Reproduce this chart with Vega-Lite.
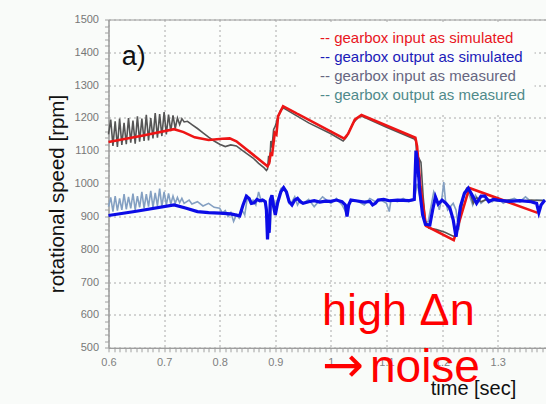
{
  "$schema": "https://vega.github.io/schema/vega-lite/v6.json",
  "width": 440,
  "height": 328.3,
  "autosize": {"type": "none"},
  "padding": {"left": 108.5, "top": 19.5, "right": 0, "bottom": 56.2},
  "background": "#f9fbf9",
  "config": {
    "view": {"stroke": "#9a9a9a", "strokeWidth": 1, "fill": "#fbfdfb"},
    "font": "Liberation Sans"
  },
  "layer": [
    {
      "data": {
        "values": [
          {"s": "in_sim", "t": 0.600, "v": 1127}, {"s": "in_sim", "t": 0.660, "v": 1146}, {"s": "in_sim", "t": 0.718, "v": 1166},
          {"s": "in_sim", "t": 0.735, "v": 1157}, {"s": "in_sim", "t": 0.755, "v": 1141}, {"s": "in_sim", "t": 0.780, "v": 1133},
          {"s": "in_sim", "t": 0.805, "v": 1137}, {"s": "in_sim", "t": 0.818, "v": 1138}, {"s": "in_sim", "t": 0.830, "v": 1129},
          {"s": "in_sim", "t": 0.886, "v": 1053}, {"s": "in_sim", "t": 0.889, "v": 1062}, {"s": "in_sim", "t": 0.892, "v": 1095},
          {"s": "in_sim", "t": 0.894, "v": 1084}, {"s": "in_sim", "t": 0.899, "v": 1155}, {"s": "in_sim", "t": 0.902, "v": 1150},
          {"s": "in_sim", "t": 0.905, "v": 1205}, {"s": "in_sim", "t": 0.914, "v": 1236}, {"s": "in_sim", "t": 1.024, "v": 1137},
          {"s": "in_sim", "t": 1.031, "v": 1152}, {"s": "in_sim", "t": 1.043, "v": 1195}, {"s": "in_sim", "t": 1.055, "v": 1209},
          {"s": "in_sim", "t": 1.152, "v": 1140}, {"s": "in_sim", "t": 1.155, "v": 1114}, {"s": "in_sim", "t": 1.161, "v": 992},
          {"s": "in_sim", "t": 1.171, "v": 871}, {"s": "in_sim", "t": 1.221, "v": 828}, {"s": "in_sim", "t": 1.249, "v": 987},
          {"s": "in_sim", "t": 1.372, "v": 911},

          {"s": "out_sim", "t": 0.600, "v": 903}, {"s": "out_sim", "t": 0.650, "v": 916}, {"s": "out_sim", "t": 0.718, "v": 935},
          {"s": "out_sim", "t": 0.740, "v": 925}, {"s": "out_sim", "t": 0.760, "v": 915}, {"s": "out_sim", "t": 0.780, "v": 912},
          {"s": "out_sim", "t": 0.800, "v": 910}, {"s": "out_sim", "t": 0.820, "v": 908}, {"s": "out_sim", "t": 0.836, "v": 902},
          {"s": "out_sim", "t": 0.842, "v": 935}, {"s": "out_sim", "t": 0.848, "v": 962}, {"s": "out_sim", "t": 0.853, "v": 955},
          {"s": "out_sim", "t": 0.857, "v": 940}, {"s": "out_sim", "t": 0.862, "v": 942}, {"s": "out_sim", "t": 0.867, "v": 952},
          {"s": "out_sim", "t": 0.872, "v": 948}, {"s": "out_sim", "t": 0.877, "v": 950}, {"s": "out_sim", "t": 0.882, "v": 945},
          {"s": "out_sim", "t": 0.884, "v": 920}, {"s": "out_sim", "t": 0.886, "v": 830}, {"s": "out_sim", "t": 0.888, "v": 900},
          {"s": "out_sim", "t": 0.889, "v": 850}, {"s": "out_sim", "t": 0.891, "v": 950}, {"s": "out_sim", "t": 0.894, "v": 965},
          {"s": "out_sim", "t": 0.897, "v": 930}, {"s": "out_sim", "t": 0.900, "v": 905}, {"s": "out_sim", "t": 0.904, "v": 940},
          {"s": "out_sim", "t": 0.910, "v": 975}, {"s": "out_sim", "t": 0.915, "v": 988}, {"s": "out_sim", "t": 0.920, "v": 975},
          {"s": "out_sim", "t": 0.925, "v": 945}, {"s": "out_sim", "t": 0.930, "v": 935}, {"s": "out_sim", "t": 0.935, "v": 950},
          {"s": "out_sim", "t": 0.940, "v": 955}, {"s": "out_sim", "t": 0.945, "v": 945}, {"s": "out_sim", "t": 0.950, "v": 940},
          {"s": "out_sim", "t": 0.960, "v": 945}, {"s": "out_sim", "t": 0.970, "v": 948}, {"s": "out_sim", "t": 0.980, "v": 944},
          {"s": "out_sim", "t": 0.990, "v": 947}, {"s": "out_sim", "t": 1.000, "v": 946}, {"s": "out_sim", "t": 1.010, "v": 950},
          {"s": "out_sim", "t": 1.020, "v": 945}, {"s": "out_sim", "t": 1.026, "v": 935}, {"s": "out_sim", "t": 1.029, "v": 900},
          {"s": "out_sim", "t": 1.032, "v": 935}, {"s": "out_sim", "t": 1.036, "v": 950}, {"s": "out_sim", "t": 1.045, "v": 948},
          {"s": "out_sim", "t": 1.060, "v": 944}, {"s": "out_sim", "t": 1.070, "v": 946}, {"s": "out_sim", "t": 1.075, "v": 935},
          {"s": "out_sim", "t": 1.080, "v": 940}, {"s": "out_sim", "t": 1.085, "v": 950}, {"s": "out_sim", "t": 1.095, "v": 952},
          {"s": "out_sim", "t": 1.105, "v": 948}, {"s": "out_sim", "t": 1.120, "v": 950}, {"s": "out_sim", "t": 1.140, "v": 948},
          {"s": "out_sim", "t": 1.150, "v": 952}, {"s": "out_sim", "t": 1.153, "v": 1100}, {"s": "out_sim", "t": 1.156, "v": 1065},
          {"s": "out_sim", "t": 1.160, "v": 975}, {"s": "out_sim", "t": 1.165, "v": 905}, {"s": "out_sim", "t": 1.170, "v": 876},
          {"s": "out_sim", "t": 1.178, "v": 874}, {"s": "out_sim", "t": 1.183, "v": 920}, {"s": "out_sim", "t": 1.188, "v": 960},
          {"s": "out_sim", "t": 1.193, "v": 938}, {"s": "out_sim", "t": 1.200, "v": 950}, {"s": "out_sim", "t": 1.207, "v": 940},
          {"s": "out_sim", "t": 1.214, "v": 926}, {"s": "out_sim", "t": 1.220, "v": 890}, {"s": "out_sim", "t": 1.225, "v": 838},
          {"s": "out_sim", "t": 1.229, "v": 880}, {"s": "out_sim", "t": 1.233, "v": 930}, {"s": "out_sim", "t": 1.240, "v": 970},
          {"s": "out_sim", "t": 1.247, "v": 986}, {"s": "out_sim", "t": 1.254, "v": 965}, {"s": "out_sim", "t": 1.262, "v": 940},
          {"s": "out_sim", "t": 1.270, "v": 962}, {"s": "out_sim", "t": 1.277, "v": 962}, {"s": "out_sim", "t": 1.284, "v": 945},
          {"s": "out_sim", "t": 1.292, "v": 952}, {"s": "out_sim", "t": 1.300, "v": 950}, {"s": "out_sim", "t": 1.320, "v": 946},
          {"s": "out_sim", "t": 1.340, "v": 948}, {"s": "out_sim", "t": 1.360, "v": 945}, {"s": "out_sim", "t": 1.370, "v": 940},
          {"s": "out_sim", "t": 1.374, "v": 912}, {"s": "out_sim", "t": 1.378, "v": 935}, {"s": "out_sim", "t": 1.385, "v": 950},

          {"s": "in_meas", "t": 0.600, "v": 1150}, {"s": "in_meas", "t": 0.604, "v": 1195}, {"s": "in_meas", "t": 0.608, "v": 1115},
          {"s": "in_meas", "t": 0.612, "v": 1190}, {"s": "in_meas", "t": 0.616, "v": 1112}, {"s": "in_meas", "t": 0.620, "v": 1198},
          {"s": "in_meas", "t": 0.624, "v": 1118}, {"s": "in_meas", "t": 0.628, "v": 1185}, {"s": "in_meas", "t": 0.632, "v": 1120},
          {"s": "in_meas", "t": 0.636, "v": 1200}, {"s": "in_meas", "t": 0.640, "v": 1125}, {"s": "in_meas", "t": 0.644, "v": 1192},
          {"s": "in_meas", "t": 0.648, "v": 1122}, {"s": "in_meas", "t": 0.652, "v": 1205}, {"s": "in_meas", "t": 0.656, "v": 1128},
          {"s": "in_meas", "t": 0.660, "v": 1198}, {"s": "in_meas", "t": 0.664, "v": 1130}, {"s": "in_meas", "t": 0.668, "v": 1210},
          {"s": "in_meas", "t": 0.672, "v": 1132}, {"s": "in_meas", "t": 0.676, "v": 1200}, {"s": "in_meas", "t": 0.680, "v": 1138},
          {"s": "in_meas", "t": 0.684, "v": 1215}, {"s": "in_meas", "t": 0.688, "v": 1140}, {"s": "in_meas", "t": 0.692, "v": 1212},
          {"s": "in_meas", "t": 0.696, "v": 1145}, {"s": "in_meas", "t": 0.700, "v": 1218}, {"s": "in_meas", "t": 0.704, "v": 1150},
          {"s": "in_meas", "t": 0.708, "v": 1210}, {"s": "in_meas", "t": 0.712, "v": 1160}, {"s": "in_meas", "t": 0.716, "v": 1208},
          {"s": "in_meas", "t": 0.720, "v": 1168}, {"s": "in_meas", "t": 0.724, "v": 1200}, {"s": "in_meas", "t": 0.728, "v": 1180},
          {"s": "in_meas", "t": 0.732, "v": 1198}, {"s": "in_meas", "t": 0.736, "v": 1188}, {"s": "in_meas", "t": 0.742, "v": 1190},
          {"s": "in_meas", "t": 0.750, "v": 1180}, {"s": "in_meas", "t": 0.760, "v": 1168}, {"s": "in_meas", "t": 0.770, "v": 1155},
          {"s": "in_meas", "t": 0.780, "v": 1142}, {"s": "in_meas", "t": 0.790, "v": 1130}, {"s": "in_meas", "t": 0.800, "v": 1120},
          {"s": "in_meas", "t": 0.810, "v": 1113}, {"s": "in_meas", "t": 0.820, "v": 1118}, {"s": "in_meas", "t": 0.830, "v": 1115},
          {"s": "in_meas", "t": 0.840, "v": 1102}, {"s": "in_meas", "t": 0.850, "v": 1090}, {"s": "in_meas", "t": 0.860, "v": 1078},
          {"s": "in_meas", "t": 0.870, "v": 1062}, {"s": "in_meas", "t": 0.880, "v": 1048}, {"s": "in_meas", "t": 0.884, "v": 1040},
          {"s": "in_meas", "t": 0.886, "v": 1045}, {"s": "in_meas", "t": 0.888, "v": 1085}, {"s": "in_meas", "t": 0.890, "v": 1065},
          {"s": "in_meas", "t": 0.892, "v": 1130}, {"s": "in_meas", "t": 0.894, "v": 1110}, {"s": "in_meas", "t": 0.897, "v": 1165},
          {"s": "in_meas", "t": 0.900, "v": 1175}, {"s": "in_meas", "t": 0.905, "v": 1205}, {"s": "in_meas", "t": 0.910, "v": 1225},
          {"s": "in_meas", "t": 0.915, "v": 1230}, {"s": "in_meas", "t": 0.960, "v": 1185}, {"s": "in_meas", "t": 1.000, "v": 1152},
          {"s": "in_meas", "t": 1.022, "v": 1130}, {"s": "in_meas", "t": 1.028, "v": 1142}, {"s": "in_meas", "t": 1.040, "v": 1185},
          {"s": "in_meas", "t": 1.050, "v": 1203}, {"s": "in_meas", "t": 1.056, "v": 1205}, {"s": "in_meas", "t": 1.100, "v": 1172},
          {"s": "in_meas", "t": 1.150, "v": 1136}, {"s": "in_meas", "t": 1.153, "v": 1130}, {"s": "in_meas", "t": 1.156, "v": 1020},
          {"s": "in_meas", "t": 1.159, "v": 1075}, {"s": "in_meas", "t": 1.162, "v": 1065}, {"s": "in_meas", "t": 1.166, "v": 960},
          {"s": "in_meas", "t": 1.170, "v": 885}, {"s": "in_meas", "t": 1.176, "v": 865}, {"s": "in_meas", "t": 1.190, "v": 860},
          {"s": "in_meas", "t": 1.205, "v": 852}, {"s": "in_meas", "t": 1.220, "v": 840}, {"s": "in_meas", "t": 1.226, "v": 842},
          {"s": "in_meas", "t": 1.232, "v": 900}, {"s": "in_meas", "t": 1.238, "v": 955}, {"s": "in_meas", "t": 1.244, "v": 985},
          {"s": "in_meas", "t": 1.250, "v": 975}, {"s": "in_meas", "t": 1.256, "v": 940}, {"s": "in_meas", "t": 1.262, "v": 958},
          {"s": "in_meas", "t": 1.270, "v": 945}, {"s": "in_meas", "t": 1.280, "v": 952}, {"s": "in_meas", "t": 1.300, "v": 948},
          {"s": "in_meas", "t": 1.320, "v": 950}, {"s": "in_meas", "t": 1.340, "v": 946}, {"s": "in_meas", "t": 1.360, "v": 950},
          {"s": "in_meas", "t": 1.385, "v": 948},

          {"s": "out_meas", "t": 0.600, "v": 930}, {"s": "out_meas", "t": 0.604, "v": 958}, {"s": "out_meas", "t": 0.608, "v": 915},
          {"s": "out_meas", "t": 0.612, "v": 962}, {"s": "out_meas", "t": 0.616, "v": 918}, {"s": "out_meas", "t": 0.620, "v": 955},
          {"s": "out_meas", "t": 0.624, "v": 920}, {"s": "out_meas", "t": 0.628, "v": 968}, {"s": "out_meas", "t": 0.632, "v": 922},
          {"s": "out_meas", "t": 0.636, "v": 960}, {"s": "out_meas", "t": 0.640, "v": 925}, {"s": "out_meas", "t": 0.644, "v": 970},
          {"s": "out_meas", "t": 0.648, "v": 920}, {"s": "out_meas", "t": 0.652, "v": 962}, {"s": "out_meas", "t": 0.656, "v": 928},
          {"s": "out_meas", "t": 0.660, "v": 975}, {"s": "out_meas", "t": 0.664, "v": 925}, {"s": "out_meas", "t": 0.668, "v": 968},
          {"s": "out_meas", "t": 0.672, "v": 930}, {"s": "out_meas", "t": 0.676, "v": 978}, {"s": "out_meas", "t": 0.680, "v": 928},
          {"s": "out_meas", "t": 0.684, "v": 972}, {"s": "out_meas", "t": 0.688, "v": 932}, {"s": "out_meas", "t": 0.692, "v": 985},
          {"s": "out_meas", "t": 0.696, "v": 930}, {"s": "out_meas", "t": 0.700, "v": 975}, {"s": "out_meas", "t": 0.704, "v": 935},
          {"s": "out_meas", "t": 0.708, "v": 970}, {"s": "out_meas", "t": 0.712, "v": 938}, {"s": "out_meas", "t": 0.716, "v": 962},
          {"s": "out_meas", "t": 0.720, "v": 940}, {"s": "out_meas", "t": 0.724, "v": 958}, {"s": "out_meas", "t": 0.728, "v": 942},
          {"s": "out_meas", "t": 0.732, "v": 955}, {"s": "out_meas", "t": 0.736, "v": 940}, {"s": "out_meas", "t": 0.745, "v": 950},
          {"s": "out_meas", "t": 0.750, "v": 938}, {"s": "out_meas", "t": 0.760, "v": 945}, {"s": "out_meas", "t": 0.770, "v": 932},
          {"s": "out_meas", "t": 0.780, "v": 940}, {"s": "out_meas", "t": 0.790, "v": 928}, {"s": "out_meas", "t": 0.800, "v": 925},
          {"s": "out_meas", "t": 0.805, "v": 910}, {"s": "out_meas", "t": 0.810, "v": 918}, {"s": "out_meas", "t": 0.815, "v": 900},
          {"s": "out_meas", "t": 0.820, "v": 912}, {"s": "out_meas", "t": 0.825, "v": 885}, {"s": "out_meas", "t": 0.830, "v": 905},
          {"s": "out_meas", "t": 0.835, "v": 895}, {"s": "out_meas", "t": 0.840, "v": 920}, {"s": "out_meas", "t": 0.845, "v": 905},
          {"s": "out_meas", "t": 0.850, "v": 960}, {"s": "out_meas", "t": 0.855, "v": 940}, {"s": "out_meas", "t": 0.860, "v": 950},
          {"s": "out_meas", "t": 0.865, "v": 935}, {"s": "out_meas", "t": 0.870, "v": 975}, {"s": "out_meas", "t": 0.875, "v": 945},
          {"s": "out_meas", "t": 0.880, "v": 950}, {"s": "out_meas", "t": 0.884, "v": 930}, {"s": "out_meas", "t": 0.887, "v": 850},
          {"s": "out_meas", "t": 0.889, "v": 900}, {"s": "out_meas", "t": 0.891, "v": 860}, {"s": "out_meas", "t": 0.893, "v": 940},
          {"s": "out_meas", "t": 0.897, "v": 950}, {"s": "out_meas", "t": 0.900, "v": 935}, {"s": "out_meas", "t": 0.905, "v": 955},
          {"s": "out_meas", "t": 0.910, "v": 985}, {"s": "out_meas", "t": 0.915, "v": 990}, {"s": "out_meas", "t": 0.920, "v": 970},
          {"s": "out_meas", "t": 0.925, "v": 940}, {"s": "out_meas", "t": 0.930, "v": 945}, {"s": "out_meas", "t": 0.935, "v": 960},
          {"s": "out_meas", "t": 0.940, "v": 935}, {"s": "out_meas", "t": 0.945, "v": 950}, {"s": "out_meas", "t": 0.950, "v": 940},
          {"s": "out_meas", "t": 0.960, "v": 952}, {"s": "out_meas", "t": 0.970, "v": 930}, {"s": "out_meas", "t": 0.985, "v": 960},
          {"s": "out_meas", "t": 1.000, "v": 940}, {"s": "out_meas", "t": 1.010, "v": 955}, {"s": "out_meas", "t": 1.020, "v": 935},
          {"s": "out_meas", "t": 1.028, "v": 910}, {"s": "out_meas", "t": 1.032, "v": 940}, {"s": "out_meas", "t": 1.040, "v": 950},
          {"s": "out_meas", "t": 1.050, "v": 945}, {"s": "out_meas", "t": 1.060, "v": 935}, {"s": "out_meas", "t": 1.070, "v": 955},
          {"s": "out_meas", "t": 1.080, "v": 945}, {"s": "out_meas", "t": 1.090, "v": 950}, {"s": "out_meas", "t": 1.100, "v": 940},
          {"s": "out_meas", "t": 1.105, "v": 915}, {"s": "out_meas", "t": 1.108, "v": 950}, {"s": "out_meas", "t": 1.120, "v": 945},
          {"s": "out_meas", "t": 1.130, "v": 955}, {"s": "out_meas", "t": 1.140, "v": 945}, {"s": "out_meas", "t": 1.150, "v": 950},
          {"s": "out_meas", "t": 1.155, "v": 1000}, {"s": "out_meas", "t": 1.160, "v": 960}, {"s": "out_meas", "t": 1.165, "v": 910},
          {"s": "out_meas", "t": 1.170, "v": 880}, {"s": "out_meas", "t": 1.175, "v": 885}, {"s": "out_meas", "t": 1.180, "v": 930},
          {"s": "out_meas", "t": 1.185, "v": 975}, {"s": "out_meas", "t": 1.190, "v": 955}, {"s": "out_meas", "t": 1.195, "v": 920},
          {"s": "out_meas", "t": 1.200, "v": 960}, {"s": "out_meas", "t": 1.203, "v": 1005}, {"s": "out_meas", "t": 1.206, "v": 950},
          {"s": "out_meas", "t": 1.210, "v": 920}, {"s": "out_meas", "t": 1.215, "v": 930}, {"s": "out_meas", "t": 1.220, "v": 940},
          {"s": "out_meas", "t": 1.225, "v": 920}, {"s": "out_meas", "t": 1.230, "v": 860}, {"s": "out_meas", "t": 1.235, "v": 930},
          {"s": "out_meas", "t": 1.240, "v": 975}, {"s": "out_meas", "t": 1.245, "v": 980}, {"s": "out_meas", "t": 1.250, "v": 960},
          {"s": "out_meas", "t": 1.255, "v": 935}, {"s": "out_meas", "t": 1.260, "v": 965}, {"s": "out_meas", "t": 1.270, "v": 940},
          {"s": "out_meas", "t": 1.280, "v": 955}, {"s": "out_meas", "t": 1.290, "v": 945}, {"s": "out_meas", "t": 1.300, "v": 958},
          {"s": "out_meas", "t": 1.310, "v": 940}, {"s": "out_meas", "t": 1.320, "v": 950}, {"s": "out_meas", "t": 1.330, "v": 955},
          {"s": "out_meas", "t": 1.340, "v": 945}, {"s": "out_meas", "t": 1.350, "v": 960}, {"s": "out_meas", "t": 1.360, "v": 945},
          {"s": "out_meas", "t": 1.370, "v": 950}, {"s": "out_meas", "t": 1.385, "v": 950}
        ]
      },
      "encoding": {
        "x": {
          "field": "t", "type": "quantitative",
          "scale": {"domain": [0.6, 1.3914], "nice": false, "zero": false},
          "axis": {
            "title": "time [sec]",
            "tickCount": 79,
            "labelExpr": "abs(datum.value*10 - round(datum.value*10)) < 0.001 ? format(datum.value, '~g') : ''",
            "labelOverlap": false, "labelFlush": false,
            "labelFontSize": 11, "labelColor": "#808080", "labelPadding": 5,
            "tickSize": 4, "tickColor": "#a0a0a0", "domainColor": "#9a9a9a",
            "grid": true,
            "gridColor": {"condition": {"test": "abs(datum.value*10 - round(datum.value*10)) < 0.001", "value": "#aaaaaa"}, "value": "transparent"},
            "gridDash": [2, 3],
            "titleFontSize": 20, "titleColor": "#111111", "titleFontWeight": "normal",
            "titleX": 364.5, "titleY": 46.5, "titleBaseline": "alphabetic", "titleAlign": "center"
          }
        },
        "y": {
          "field": "v", "type": "quantitative",
          "scale": {"domain": [500, 1500], "nice": false, "zero": false},
          "axis": {
            "title": "rotational speed [rpm]",
            "tickCount": 50,
            "labelExpr": "datum.value % 100 == 0 ? format(datum.value, 'd') : ''",
            "labelOverlap": false, "labelFlush": false,
            "labelFontSize": 11, "labelColor": "#777777", "labelPadding": 6,
            "tickSize": 4, "tickColor": "#a0a0a0", "domainColor": "#9a9a9a",
            "grid": true,
            "gridColor": {"condition": {"test": "datum.value % 100 == 0", "value": "#aaaaaa"}, "value": "transparent"},
            "gridDash": [2, 3],
            "titleFontSize": 20.5, "titleColor": "#111111", "titleFontWeight": "normal",
            "titleX": -45, "titleY": 174, "titleAngle": -90, "titleBaseline": "alphabetic", "titleAlign": "center"
          }
        },
        "color": {
          "field": "s", "type": "nominal",
          "scale": {
            "domain": ["in_sim", "out_sim", "in_meas", "out_meas"],
            "range": ["#ee1515", "#0c0ce6", "#555555", "#84a0c2"]
          },
          "legend": {
            "orient": "none", "legendX": 188.5, "legendY": 2.5, "title": null,
            "labelExpr": "datum.label == 'in_sim' ? '-- gearbox input as simulated' : datum.label == 'out_sim' ? '-- gearbox output as simulated' : datum.label == 'in_meas' ? '-- gearbox input as measured' : '-- gearbox output as measured'",
            "labelFont": "Liberation Sans", "labelFontSize": 15, "labelLimit": 400,
            "symbolOpacity": 0, "symbolSize": 0, "symbolStrokeWidth": 0, "labelOffset": 0,
            "rowPadding": 3.3, "padding": 8, "fillColor": "#fbfdfb", "strokeColor": "transparent",
            "encoding": {
              "labels": {
                "fill": {
                  "condition": [
                    {"test": "datum.value == 'in_sim'", "value": "#e8161e"},
                    {"test": "datum.value == 'out_sim'", "value": "#1a1ab8"},
                    {"test": "datum.value == 'in_meas'", "value": "#666680"}
                  ],
                  "value": "#4f8a8a"
                }
              }
            }
          }
        }
      },
      "layer": [
        {"transform": [{"filter": "datum.s == 'out_meas'"}], "mark": {"type": "line", "strokeWidth": 1.6}},
        {"transform": [{"filter": "datum.s == 'in_meas'"}], "mark": {"type": "line", "strokeWidth": 1.6}},
        {"transform": [{"filter": "datum.s == 'in_sim'"}], "mark": {"type": "line", "strokeWidth": 2.6}},
        {"transform": [{"filter": "datum.s == 'out_sim'"}], "mark": {"type": "line", "strokeWidth": 3.2}}
      ]
    },
    {
      "data": {"values": [{"label": "a)"}]},
      "mark": {"type": "text", "fontSize": 27, "align": "left", "baseline": "alphabetic", "font": "Liberation Sans", "fill": "#111111"},
      "encoding": {
        "x": {"datum": 0.6237, "type": "quantitative"},
        "y": {"datum": 1361, "type": "quantitative"},
        "text": {"field": "label"}
      }
    },
    {
      "data": {"values": [{"label": "high Δn"}]},
      "mark": {"type": "text", "fontSize": 45, "align": "left", "baseline": "alphabetic", "font": "Liberation Sans", "fill": "#ff0000"},
      "encoding": {
        "x": {"datum": 0.984, "type": "quantitative"},
        "y": {"datum": 569.5, "type": "quantitative"},
        "text": {"field": "label"}
      }
    },
    {
      "data": {"values": [{"label": "→"}]},
      "mark": {"type": "text", "fontSize": 50, "align": "left", "baseline": "alphabetic", "font": "DejaVu Sans", "fill": "#ff0000"},
      "encoding": {
        "x": {"datum": 0.984, "type": "quantitative"},
        "y": {"datum": 396.5, "type": "quantitative"},
        "text": {"field": "label"}
      }
    },
    {
      "data": {"values": [{"label": "noise"}]},
      "mark": {"type": "text", "fontSize": 46, "align": "left", "baseline": "alphabetic", "font": "Liberation Sans", "fill": "#ff0000"},
      "encoding": {
        "x": {"datum": 1.0703, "type": "quantitative"},
        "y": {"datum": 396.5, "type": "quantitative"},
        "text": {"field": "label"}
      }
    }
  ]
}
